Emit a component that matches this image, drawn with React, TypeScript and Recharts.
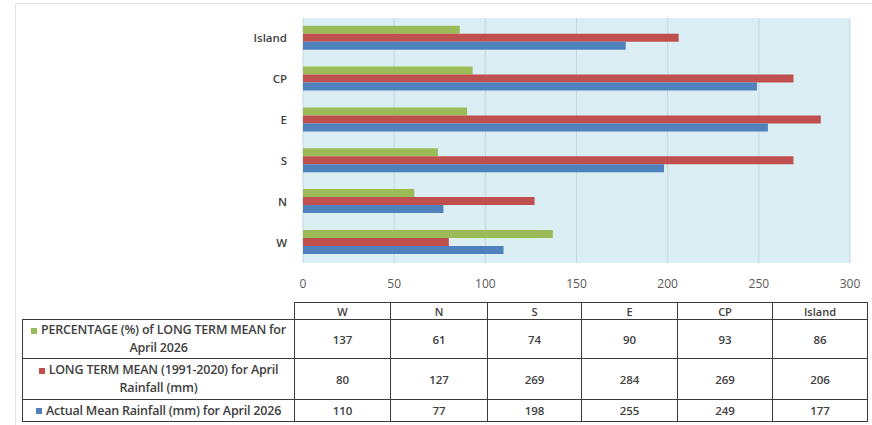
import React from 'react';
import { BarChart, Bar, XAxis, YAxis, CartesianGrid } from 'recharts';

const regions = ['W', 'N', 'S', 'E', 'CP', 'Island'];
const percentOfMean = [137, 61, 74, 90, 93, 86];
const longTermMean = [80, 127, 269, 284, 269, 206];
const actualRainfall = [110, 77, 198, 255, 249, 177];
const xTicks = [0, 50, 100, 150, 200, 250, 300];

const series = [
  { key: 'pct', label: 'PERCENTAGE (%) of LONG TERM MEAN for April 2026', color: '#9BBB59', values: percentOfMean },
  { key: 'ltm', label: 'LONG TERM MEAN (1991-2020) for April Rainfall (mm)', color: '#C0504D', values: longTermMean },
  { key: 'act', label: 'Actual Mean Rainfall (mm) for April 2026', color: '#4F81BD', values: actualRainfall },
];

// chart lists Island at top, W at bottom
const chartData = regions
  .map((r, i) => ({ region: r, pct: percentOfMean[i], ltm: longTermMean[i], act: actualRainfall[i] }))
  .reverse();

const colWidths = [96, 97, 94, 96, 95, 95];
const border = '1.5px solid #3a3a3a';

export default function App() {
  return (
    <div
      style={{
        position: 'absolute',
        top: 0,
        left: 0,
        width: 872,
        height: 425,
        background: '#fff',
        fontFamily: '"Open Sans", "Noto Sans", sans-serif',
        overflow: 'hidden',
      }}
    >
      <div style={{ position: 'absolute', left: 15, top: 3, width: 860, height: 430, borderLeft: '1px solid #e4e4e4', borderTop: '1px solid #e4e4e4' }} />
      <div style={{ position: 'absolute', left: 0, top: 0 }}>
        <BarChart
          width={872}
          height={300}
          data={chartData}
          layout="vertical"
          margin={{ top: 18, right: 22, bottom: 7, left: 243 }}
          barCategoryGap="19%"
          barGap={0}
        >
          <CartesianGrid horizontal={false} fill="#DAEEF3" stroke="#c3d7de" />
          <XAxis
            type="number"
            domain={[0, 300]}
            ticks={xTicks}
            axisLine={false}
            tickLine={false}
            tickMargin={10}
            height={30}
            tick={{ fontSize: 12, fill: '#595959' }}
          />
          <YAxis
            type="category"
            dataKey="region"
            width={60}
            axisLine={false}
            tickLine={false}
            tickMargin={10}
            tick={{ fontSize: 11.5, fill: '#404040', fontWeight: 600 }}
          />
          {series.map((s) => (
            <Bar key={s.key} dataKey={s.key} fill={s.color} isAnimationActive={false} />
          ))}
        </BarChart>
      </div>
      <table
        style={{
          position: 'absolute',
          left: 22,
          top: 302,
          borderCollapse: 'collapse',
          fontSize: 11.5,
          color: '#404040',
          tableLayout: 'fixed',
        }}
      >
        <colgroup>
          <col style={{ width: 272 }} />
          {colWidths.map((w, i) => (
            <col key={i} style={{ width: w }} />
          ))}
        </colgroup>
        <tbody>
          <tr style={{ height: 17 }}>
            <td style={{ padding: 0 }} />
            {regions.map((r) => (
              <td key={r} style={{ border, textAlign: 'center', padding: 0, fontWeight: 600, fontSize: 11 }}>
                {r}
              </td>
            ))}
          </tr>
          {series.map((s, si) => (
            <tr key={s.key} style={{ height: si === 2 ? 22 : si === 0 ? 39 : 41 }}>
              <td
                style={{
                  border,
                  textAlign: 'center',
                  padding: '0 3px',
                  fontWeight: 600,
                  fontSize: 12.5,
                  lineHeight: '18px',
                  letterSpacing: -0.2,
                }}
              >
                <span
                  style={{ display: 'inline-block', width: 6, height: 6, background: s.color, marginRight: 4, verticalAlign: 'middle' }}
                />
                {s.label}
              </td>
              {s.values.map((v, i) => (
                <td key={i} style={{ border, textAlign: 'center', padding: 0, fontWeight: 600 }}>
                  {v}
                </td>
              ))}
            </tr>
          ))}
        </tbody>
      </table>
    </div>
  );
}
